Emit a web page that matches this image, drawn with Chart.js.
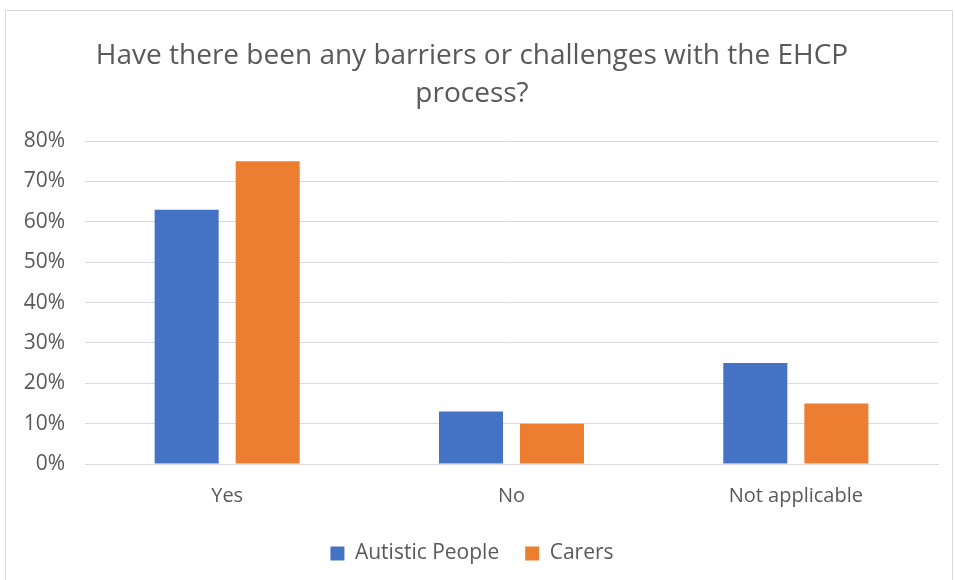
<!DOCTYPE html>
<html lang="en">
<head>
  <meta charset="UTF-8" />
  <title>EHCP barriers</title>
  <script src="https://cdn.jsdelivr.net/npm/chart.js"></script>
  <style>
    body {
      margin: 0;
      background: #ffffff;
      overflow: hidden;
    }
    .frame {
      position: absolute;
      left: 5px;
      top: 10px;
      width: 946px;
      height: 580px;
      border: 1px solid #d9d9d9;
      background: #ffffff;
    }
  </style>
</head>
<body>
  <div class="frame">
    <canvas id="chart" width="946" height="569"></canvas>
  </div>

  <script>
    const categories = ['Yes', 'No', 'Not applicable'];
    const autisticPeople = [63, 13, 25];
    const carers = [75, 10, 15];
    const seriesNames = ['Autistic People', 'Carers'];
    const chartTitle = ['Have there been any barriers or challenges with the EHCP', 'process?'];

    const textColor = '#595959';
    const gridColor = '#d9d9d9';
    const fontFamily = "'Open Sans', sans-serif";

    new Chart(document.getElementById('chart').getContext('2d'), {
      type: 'bar',
      data: {
        labels: categories,
        datasets: [
          { label: seriesNames[0], data: autisticPeople, backgroundColor: '#4472c4' },
          { label: seriesNames[1], data: carers, backgroundColor: '#ed7d31' }
        ]
      },
      options: {
        responsive: false,
        animation: false,
        categoryPercentage: 0.57,
        barPercentage: 0.79,
        layout: { padding: { left: 0, right: 14, top: 0, bottom: 6 } },
        plugins: {
          title: {
            display: true,
            text: chartTitle,
            color: textColor,
            font: { family: fontFamily, size: 28, weight: 'normal', lineHeight: 1.36 },
            padding: { top: 26, bottom: 28 }
          },
          legend: {
            position: 'bottom',
            labels: {
              color: textColor,
              font: { family: fontFamily, size: 21 },
              boxWidth: 14,
              boxHeight: 14,
              padding: 26
            }
          },
          tooltip: { enabled: false }
        },
        scales: {
          x: {
            grid: { display: false, drawTicks: false },
            border: { color: gridColor, width: 1 },
            afterFit: (scale) => { scale.height = 53; },
            ticks: { color: textColor, font: { family: fontFamily, size: 20 }, padding: 20 }
          },
          y: {
            min: 0,
            max: 80,
            grid: { color: gridColor, lineWidth: 1, drawTicks: false },
            border: { display: false },
            afterFit: (scale) => { scale.width = 79; },
            ticks: {
              stepSize: 10,
              color: textColor,
              padding: 20,
              font: { family: fontFamily, size: 21 },
              callback: (v) => v + '%'
            }
          }
        }
      }
    });
  </script>
</body>
</html>
